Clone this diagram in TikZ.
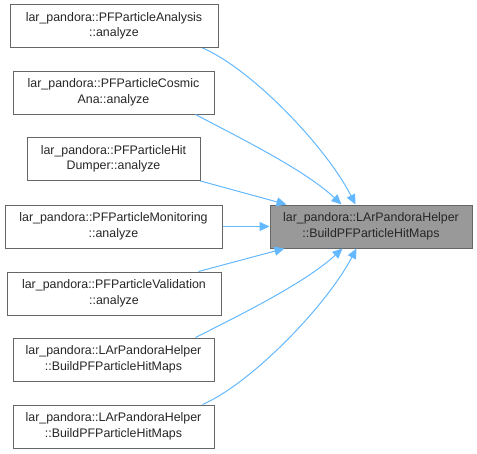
\documentclass[tikz,border=0pt]{standalone}
\usepackage{fontspec}
\setmainfont{Liberation Sans}
\usetikzlibrary{arrows.meta}
\definecolor{edgeblue}{HTML}{63B8FF}
\definecolor{boxborder}{HTML}{666666}
\definecolor{targetfill}{HTML}{999999}
\tikzset{
  fn/.style={draw=boxborder, line width=1pt, fill=white, align=center, inner sep=0pt,
    minimum height=43pt, font=\fontsize{12.4}{15.5}\selectfont, text=black!85},
  target/.style={fn, fill=targetfill},
  call/.style={draw=edgeblue, line width=1pt, -{Triangle[length=10pt,width=9pt]}}
}
\begin{document}
\begin{tikzpicture}[x=1pt,y=-1pt]
\useasboundingbox (0,0) rectangle (477,453);
\node[fn, minimum width=208pt] (b1) at (114,26) {lar\_pandora::PFParticleAnalysis\\::analyze};
\node[fn, minimum width=201pt] (b2) at (113.5,92.5) {lar\_pandora::PFParticleCosmic\\Ana::analyze};
\node[fn, minimum width=173pt] (b3) at (113.5,159) {lar\_pandora::PFParticleHit\\Dumper::analyze};
\node[fn, minimum width=217pt] (b4) at (113.5,226.5) {lar\_pandora::PFParticleMonitoring\\::analyze};
\node[fn, minimum width=214pt] (b5) at (114,293.5) {lar\_pandora::PFParticleValidation\\::analyze};
\node[fn, minimum width=201pt] (b6) at (113.5,359.5) {lar\_pandora::LArPandoraHelper\\::BuildPFParticleHitMaps};
\node[fn, minimum width=201pt] (b7) at (113.5,426.5) {lar\_pandora::LArPandoraHelper\\::BuildPFParticleHitMaps};
\node[target, minimum width=202pt] (t) at (371,226.5) {lar\_pandora::LArPandoraHelper\\::BuildPFParticleHitMaps};

\draw[call] ([xshift=-16pt]b1.south east) .. controls (250,68) and (325,145) .. ([xshift=86pt]t.north west);
\draw[call] ([xshift=-19pt]b2.south east) .. controls (240,138) and (305,170) .. ([xshift=72pt]t.north west);
\draw[call] (b3.south east) -- ([xshift=17pt]t.north west);
\draw[call] (b4.east) -- (t.west);
\draw[call] ([xshift=-23pt]b5.north east) -- ([xshift=15pt]t.south west);
\draw[call] ([xshift=-19pt]b6.north east) .. controls (240,315) and (305,283) .. ([xshift=73pt]t.south west);
\draw[call] ([xshift=-12pt]b7.north east) .. controls (250,384) and (325,308) .. ([xshift=87pt]t.south west);
\end{tikzpicture}
\end{document}
